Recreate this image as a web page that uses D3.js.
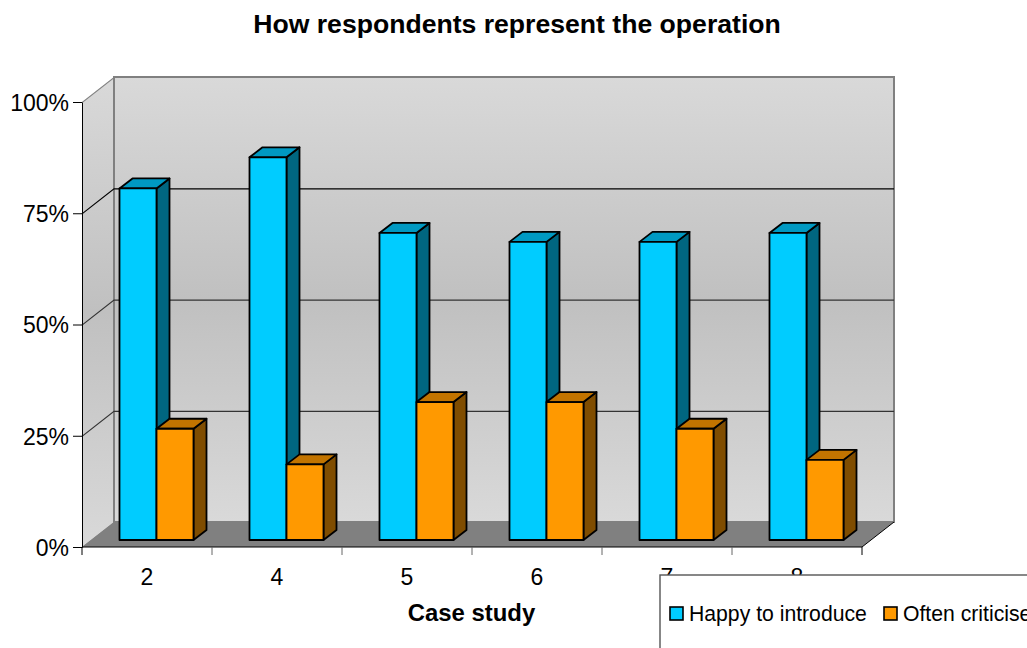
<!DOCTYPE html>
<html>
<head>
<meta charset="utf-8">
<script src="https://cdn.jsdelivr.net/npm/d3@7"></script>
<style>
html,body{margin:0;padding:0;background:#fff;overflow:hidden}
svg{display:block}
text{font-family:"Liberation Sans",Arial,sans-serif;fill:#000}
</style>
</head>
<body>
<svg id="chart" width="1027" height="648"></svg>
<script>
// Values for the clustered 3D column chart
const categories = ["2","4","5","6","7","8"];
const seriesNames = ["Happy to introduce","Often criticise"];
const happyValues = [79,86,69,67,67,69];
const criticiseValues = [25,17,31,31,25,18];
const percentTicks = [0,25,50,75,100];

const svg = d3.select("#chart");
const depth = {x:32, y:-25};      // shift from front plane to back wall
const barShift = {x:0, y:-7};     // columns sit slightly behind the front plane
const barDepth = {x:13, y:-10};   // extrusion of each column

const x = d3.scaleBand().domain(categories).range([82,862]);
const xInner = d3.scaleBand().domain(seriesNames).range([37.5,111.5]);
const y = d3.scaleLinear().domain([0,100]).range([547,102]);

const palette = {
  "Happy to introduce":{front:"#00ccff",top:"#0099c2",side:"#006680"},
  "Often criticise":{front:"#ff9900",top:"#c27400",side:"#804d00"}
};

const poly = pts => pts.map(p => p.join(",")).join(" ");

// Wall shading
const defs = svg.append("defs");
const grad = defs.append("linearGradient").attr("id","wallShade")
  .attr("x1",0).attr("y1",0).attr("x2",0).attr("y2",1);
[[0,"#d9d9d9"],[0.5,"#c0c0c0"],[1,"#d9d9d9"]].forEach(([o,c]) =>
  grad.append("stop").attr("offset",o).attr("stop-color",c));

const x0 = x.range()[0], x1 = x.range()[1];

// Side wall, back wall and floor
svg.append("polygon")
  .attr("points",poly([[x0,y(100)],[x0+depth.x,y(100)+depth.y],[x0+depth.x,y(0)+depth.y],[x0,y(0)]]))
  .attr("fill","url(#wallShade)");
svg.append("rect")
  .attr("x",x0+depth.x).attr("y",y(100)+depth.y)
  .attr("width",x1-x0).attr("height",y(0)-y(100))
  .attr("fill","url(#wallShade)")
  .attr("stroke","#808080").attr("stroke-width",2);
svg.append("polygon")
  .attr("points",poly([[x0,y(0)],[x0+depth.x,y(0)+depth.y],[x1+depth.x,y(0)+depth.y],[x1,y(0)]]))
  .attr("fill","#808080");

// Gridlines wrap from the axis along the side wall and across the back wall
const grid = svg.append("g").attr("fill","none");
percentTicks.forEach(t => {
  const edge = t === 0 || t === 100;
  grid.append("polyline")
    .attr("points",poly(edge
      ? [[x0,y(t)],[x0+depth.x,y(t)+depth.y]]
      : [[x0,y(t)],[x0+depth.x,y(t)+depth.y],[x1+depth.x,y(t)+depth.y]]))
    .attr("stroke",edge ? "#808080" : (t === 75 ? "#000" : "#333"))
    .attr("stroke-width",1.2)
    .attr("transform","translate(0,0.6)");
});
svg.append("line")
  .attr("x1",x1).attr("y1",y(0)).attr("x2",x1+depth.x).attr("y2",y(0)+depth.y)
  .attr("stroke","#000").attr("stroke-width",1);

// Columns: blue first in each group so the orange one overlaps its side face
const valuesBySeries = {"Happy to introduce":happyValues,"Often criticise":criticiseValues};
const bars = categories.flatMap((c,i) =>
  seriesNames.map(s => ({category:c,series:s,value:valuesBySeries[s][i]})));

const bar = svg.append("g").selectAll("g").data(bars).join("g")
  .attr("stroke","#000").attr("stroke-width",1.8).attr("stroke-linejoin","round");

const geom = d => {
  const l = x(d.category)+xInner(d.series)+barShift.x;
  const r = l+xInner.bandwidth();
  const t = y(d.value)+barShift.y;
  const b = y(0)+barShift.y;
  return {l,r,t,b};
};
bar.append("polygon").attr("fill",d => palette[d.series].side)
  .attr("points",d => {const g=geom(d);return poly([[g.r,g.t],[g.r+barDepth.x,g.t+barDepth.y],[g.r+barDepth.x,g.b+barDepth.y],[g.r,g.b]]);});
bar.append("polygon").attr("fill",d => palette[d.series].top)
  .attr("points",d => {const g=geom(d);return poly([[g.l,g.t],[g.l+barDepth.x,g.t+barDepth.y],[g.r+barDepth.x,g.t+barDepth.y],[g.r,g.t]]);});
bar.append("polygon").attr("fill",d => palette[d.series].front)
  .attr("points",d => {const g=geom(d);return poly([[g.l,g.t],[g.r,g.t],[g.r,g.b],[g.l,g.b]]);});

// Value axis
const yAxis = svg.append("g").attr("transform",`translate(${x0},0)`)
  .call(d3.axisLeft(y).tickValues(percentTicks).tickFormat(d => d+"%").tickSize(9).tickSizeOuter(0).tickPadding(4));
yAxis.selectAll("text").attr("font-size",23).attr("dy","0.36em").style("font-family",'"Liberation Sans",Arial,sans-serif').attr("fill","#000");
yAxis.selectAll("line,path").attr("stroke","#000");

// Category axis, with ticks on the group boundaries
const xAxis = svg.append("g").attr("transform",`translate(0,${y(0)})`);
xAxis.append("line").attr("x1",x0).attr("x2",x1).attr("stroke","#000");
xAxis.selectAll("line.tick").data([...categories.map(c => x(c)),x1]).join("line")
  .attr("class","tick").attr("x1",d => d).attr("x2",d => d).attr("y1",0).attr("y2",8)
  .attr("stroke",(d,i) => i === 0 || i === categories.length ? "#000" : "#666");
xAxis.selectAll("text").data(categories).join("text")
  .attr("x",d => x(d)+x.bandwidth()/2).attr("y",38)
  .attr("text-anchor","middle").attr("font-size",23).text(d => d);

// Titles
svg.append("text").attr("x",517).attr("y",33).attr("text-anchor","middle")
  .attr("font-size",26.6).attr("font-weight","bold").text("How respondents represent the operation");
svg.append("text").attr("x",471.5).attr("y",621).attr("text-anchor","middle")
  .attr("font-size",23.9).attr("font-weight","bold").text("Case study");

// Legend box runs off the right and bottom of the page
const legend = svg.append("g");
legend.append("rect").attr("x",660).attr("y",575).attr("width",420).attr("height",120)
  .attr("fill","#fff").attr("stroke","#555").attr("stroke-width",1.4);
const legendX = [670,884];
seriesNames.forEach((s,i) => {
  legend.append("rect").attr("x",legendX[i]).attr("y",607).attr("width",13).attr("height",13)
    .attr("fill",palette[s].front).attr("stroke","#000").attr("stroke-width",1.6);
  legend.append("text").attr("x",legendX[i]+19).attr("y",621).attr("font-size",21.2).text(s);
});
</script>
</body>
</html>
